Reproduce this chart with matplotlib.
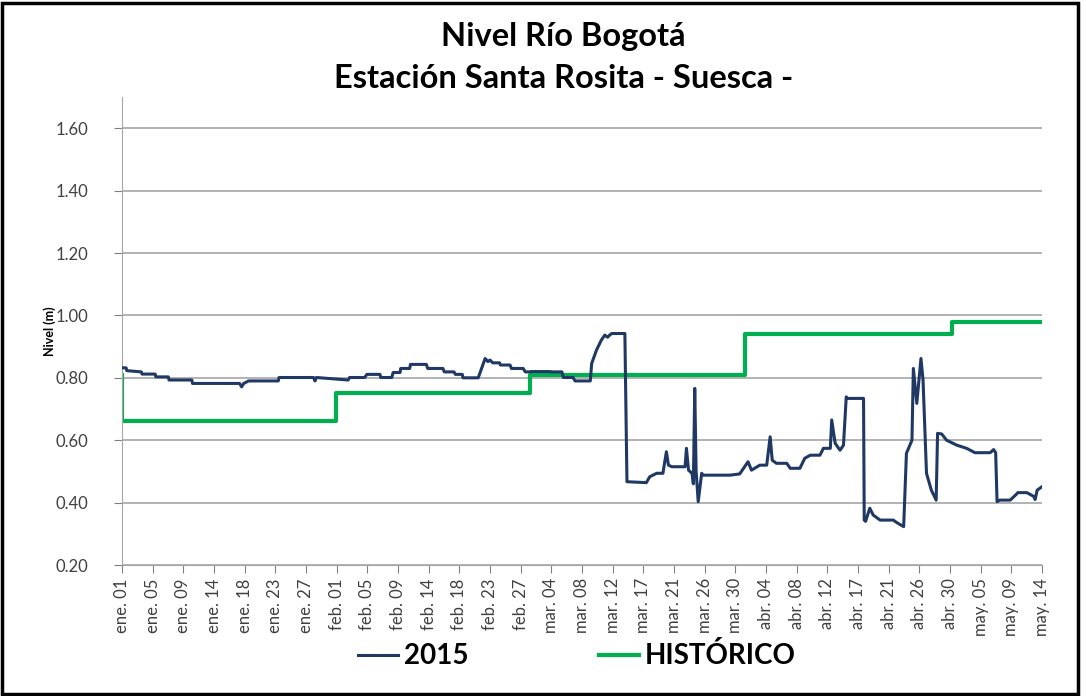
import numpy as np
import matplotlib.pyplot as plt
from matplotlib.patches import Rectangle

# ---- datos ----
# nivel 2015 (dia del año desde ene. 01, nivel en m)
dias_2015 = [0, 0.6, 0.7, 2.8, 2.9, 4.8, 4.9, 6.7, 6.8, 10.1, 10.2, 17.0, 17.3, 17.6, 18.3,
             22.6, 22.7, 27.7, 27.9, 28.1, 32.7, 32.9, 35.1, 35.4, 37.3, 37.4, 39.0, 39.2,
             40.2, 40.3, 41.6, 41.7, 44.0, 44.2, 46.4, 46.6, 48.0, 48.2, 49.2, 49.3, 51.5,
             52.0, 52.5, 52.9, 53.2, 53.6, 54.6, 54.7, 56.1, 56.3, 58.0, 58.3, 59.0, 59.1,
             61.9, 62.0, 63.6, 63.8, 65.2, 65.5, 67.7, 67.9, 68.6, 69.3, 69.8, 70.2, 70.5,
             70.8, 72.7, 73.0, 75.8, 76.3, 77.3, 78.2, 78.7, 79.0, 79.5, 81.4, 81.6, 81.9,
             82.4, 82.6, 82.8, 83.0, 83.3, 83.8, 84.0, 87.9, 89.3, 90.5, 91.0, 92.2, 93.2,
             93.7, 94.0, 94.6, 96.1, 96.6, 98.0, 98.7, 99.5, 100.9, 101.4, 102.4, 102.6,
             103.1, 103.8, 104.3, 104.7, 104.8, 107.2, 107.3, 107.5, 108.1, 108.6, 109.6,
             111.5, 112.0, 113.0, 113.4, 114.2, 114.4, 114.9, 115.5, 115.8, 116.3, 117.0,
             117.7, 117.9, 118.5, 119.2, 120.7, 122.1, 123.3, 125.5, 126.0, 126.3, 126.5,
             126.9, 128.4, 129.3, 129.5, 130.8, 131.8, 132.0, 132.3, 133.0]
nivel_2015 = [0.832, 0.832, 0.823, 0.819, 0.812, 0.812, 0.803, 0.803, 0.793, 0.793, 0.782,
              0.782, 0.771, 0.782, 0.790, 0.790, 0.801, 0.801, 0.790, 0.801, 0.793, 0.801,
              0.801, 0.811, 0.811, 0.801, 0.801, 0.817, 0.817, 0.830, 0.830, 0.843, 0.843,
              0.830, 0.830, 0.819, 0.819, 0.811, 0.811, 0.800, 0.800, 0.831, 0.862, 0.852,
              0.857, 0.848, 0.848, 0.841, 0.841, 0.830, 0.830, 0.819, 0.819, 0.820, 0.820,
              0.819, 0.819, 0.801, 0.801, 0.790, 0.790, 0.846, 0.889, 0.921, 0.937, 0.930,
              0.937, 0.942, 0.942, 0.467, 0.464, 0.483, 0.494, 0.494, 0.563, 0.520, 0.515,
              0.515, 0.574, 0.504, 0.494, 0.460, 0.766, 0.500, 0.403, 0.494, 0.488, 0.488,
              0.492, 0.531, 0.504, 0.520, 0.520, 0.611, 0.536, 0.526, 0.526, 0.510, 0.510,
              0.542, 0.552, 0.552, 0.574, 0.574, 0.665, 0.590, 0.568, 0.584, 0.739, 0.734,
              0.734, 0.344, 0.340, 0.382, 0.360, 0.344, 0.344, 0.336, 0.323, 0.558, 0.600,
              0.830, 0.718, 0.862, 0.793, 0.494, 0.440, 0.408, 0.622, 0.620, 0.600, 0.584,
              0.574, 0.560, 0.560, 0.570, 0.560, 0.403, 0.408, 0.408, 0.427, 0.432, 0.432,
              0.420, 0.410, 0.440, 0.451]

# historico (escalones)
dias_hist = [0, 0, 31, 31, 59, 59, 90, 90, 120, 120, 133]
nivel_hist = [0.81, 0.66, 0.66, 0.75, 0.75, 0.81, 0.81, 0.94, 0.94, 0.98, 0.98]

etiquetas = ['ene. 01', 'ene. 05', 'ene. 09', 'ene. 14', 'ene. 18', 'ene. 23', 'ene. 27',
             'feb. 01', 'feb. 05', 'feb. 09', 'feb. 14', 'feb. 18', 'feb. 23', 'feb. 27',
             'mar. 04', 'mar. 08', 'mar. 12', 'mar. 17', 'mar. 21', 'mar. 26', 'mar. 30',
             'abr. 04', 'abr. 08', 'abr. 12', 'abr. 17', 'abr. 21', 'abr. 26', 'abr. 30',
             'may. 05', 'may. 09', 'may. 14']

plt.rcParams['font.family'] = ['Lato', 'DejaVu Sans']

fig = plt.figure(figsize=(10.86, 6.96), dpi=100)
ax = fig.add_axes([0.1123, 0.1882, 0.8472, 0.6724])

ax.plot(dias_2015, nivel_2015, color='#1F3864', lw=2.2, label='2015', zorder=3)
ax.plot(dias_hist, nivel_hist, color='#00B050', lw=3, label='HISTÓRICO', zorder=2)

ax.set_xlim(0, 133)
ax.set_ylim(0.2, 1.7)
ax.set_yticks(np.arange(0.2, 1.61, 0.2))
ax.set_yticklabels(['%.2f' % v for v in np.arange(0.2, 1.61, 0.2)])
ax.set_xticks(np.linspace(0, 133, len(etiquetas)))
ax.set_xticklabels(etiquetas, rotation=90)
ax.tick_params(axis='both', colors='#808080', labelcolor='#404040', labelsize=12, length=6)
ax.tick_params(axis='y', pad=18)
ax.yaxis.grid(True, color='#A6A6A6', lw=1.2)
ax.set_axisbelow(True)
for s in ['top', 'right']:
    ax.spines[s].set_visible(False)
ax.spines['left'].set_color('#A6A6A6')
ax.spines['bottom'].set_color('#A6A6A6')
ax.set_ylabel('Nivel (m)', fontsize=9, fontweight='bold', labelpad=0)

fig.text(0.519, 0.948, 'Nivel Río Bogotá', ha='center', va='center', fontsize=23.5, fontweight='bold')
fig.text(0.519, 0.887, 'Estación Santa Rosita - Suesca -', ha='center', va='center', fontsize=23.5,
         fontweight='bold')

fig.legend(loc='center', bbox_to_anchor=(0.531, 0.0575), ncol=2, frameon=False,
           prop={'size': 20, 'weight': 'bold'}, handlelength=1.45, handletextpad=0.2,
           columnspacing=4.7)

fig.patches.append(Rectangle((0.002, 0.003), 0.991, 0.992, transform=fig.transFigure,
                             fill=False, edgecolor='black', lw=2.5))

fig.savefig('out.png', dpi=100)
